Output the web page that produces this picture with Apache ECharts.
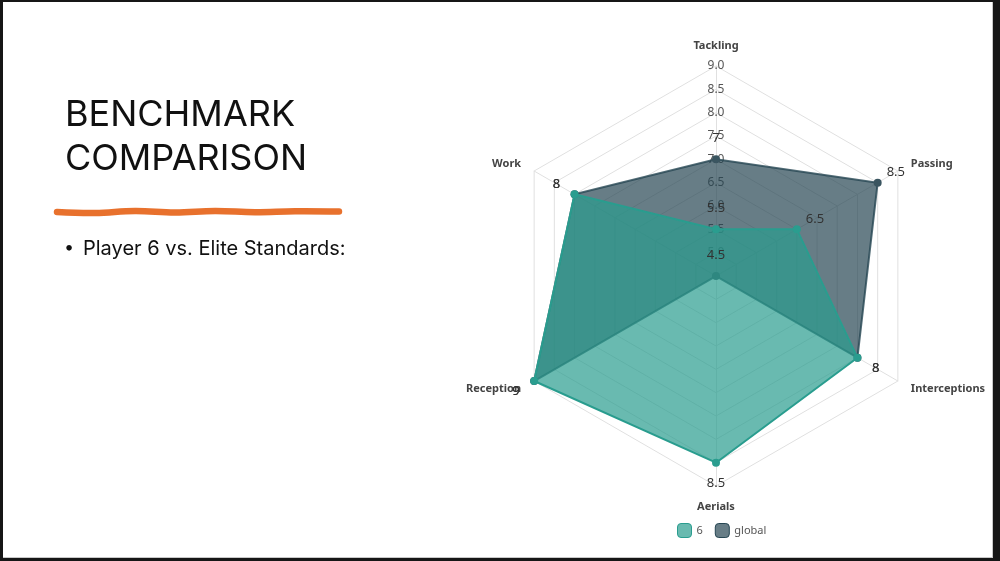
<!DOCTYPE html>
<html><head><meta charset="utf-8">
<script src="https://cdn.jsdelivr.net/npm/echarts@6/dist/echarts.min.js"></script>
<style>
html,body{margin:0;padding:0;width:1000px;height:561px;background:#161616;overflow:hidden}
#slide{position:absolute;left:3px;top:2px;width:989px;height:555px;background:#fff;border-right:1px solid #c8c8c8;border-bottom:1px solid #c8c8c8}
#chart{position:absolute;left:0;top:0;width:1000px;height:561px}
</style></head><body>
<div id="slide"></div><div id="chart"></div>
<script>
// ---- data (reference order, clockwise from top) ----
const indicators = ['Tackling', 'Passing', 'Interceptions', 'Aerials', 'Reception', 'Work'];
const axisMin = 4.5;
const axisMax = 9.0;
const axisSplits = 9;
const player6 = [5.5, 6.5, 8, 8.5, 9, 8];
const globalVals = [7, 8.5, 8, 4.5, 9, 8];
const seriesNames = ['6', 'global'];
const titleLines = ['BENCHMARK', 'COMPARISON'];
const bulletText = 'Player 6 vs. Elite Standards:';

// ---- layout / style ----
const CX = 0.716, CY = 0.492, R = 210;
const LABEL_OFF = 21;
const teal = '#2a9d8f', slate = '#264653';

// ECharts lays indicators counter-clockwise: reorder to keep reference's clockwise layout
const order = [0, 5, 4, 3, 2, 1];
const reorder = arr => order.map(i => arr[i]);

const chart = echarts.init(document.getElementById('chart'), null, {renderer: 'canvas'});
const W = chart.getWidth(), H = chart.getHeight();

function outwardLabel(p) {
  const cx = W * CX, cy = H * CY;
  const px = p.rect.x + p.rect.width / 2, py = p.rect.y + p.rect.height / 2;
  let dx = px - cx, dy = py - cy;
  const d = Math.hypot(dx, dy);
  if (d < 3) { dx = 0; dy = -1; } else { dx /= d; dy /= d; }
  return {x: px + dx * LABEL_OFF, y: py + dy * LABEL_OFF, align: 'center', verticalAlign: 'middle'};
}

const indicatorOpts = reorder(indicators).map((name, i) => {
  const o = {name: name, min: axisMin, max: axisMax};
  if (i === 0) o.axisLabel = {show: true};
  return o;
});

const dataLabel = {show: true, color: '#333', fontSize: 13, fontFamily: 'Noto Sans'};

const option = {
  animation: false,
  backgroundColor: 'transparent',
  graphic: [
    {type: 'text', left: 65, top: 97, style: {text: titleLines[0], font: '400 36px Inter', fill: '#111'}},
    {type: 'text', left: 65, top: 141, style: {text: titleLines[1], font: '400 36px Inter', fill: '#111'}},
    {type: 'polyline', shape: {points: [[57,212],[95,213],[135,211],[175,212.5],[215,211],[255,212.2],[295,211.2],[339,211.5]], smooth: 0.4},
      style: {stroke: '#e8712d', lineWidth: 6.5, lineCap: 'round', fill: null}},
    {type: 'text', left: 64, top: 239, style: {text: '•', font: '400 18px Inter', fill: '#111'}},
    {type: 'text', left: 83, top: 239, style: {text: bulletText, font: '400 20px Inter', fill: '#111'}}
  ],
  legend: {
    data: [
      {name: seriesNames[0], itemStyle: {color: 'rgba(42,157,143,0.7)', borderColor: teal, borderWidth: 1}},
      {name: seriesNames[1], itemStyle: {color: 'rgba(38,70,83,0.7)', borderColor: slate, borderWidth: 1}}
    ],
    left: 672, top: 518, icon: 'roundRect', itemWidth: 14, itemHeight: 14, itemGap: 12,
    textStyle: {color: '#555', fontSize: 11, fontFamily: 'Noto Sans'}
  },
  radar: {
    center: [(CX * 100) + '%', (CY * 100) + '%'],
    radius: R,
    shape: 'polygon',
    splitNumber: axisSplits,
    nameGap: 15,
    axisName: {color: '#444', fontSize: 11, fontWeight: 'bold', fontFamily: 'Noto Sans'},
    splitLine: {lineStyle: {color: '#e0e0e0', width: 1}},
    splitArea: {show: false},
    axisLine: {lineStyle: {color: '#e0e0e0', width: 1}},
    axisTick: {show: false},
    axisLabel: {show: false, color: '#555', fontSize: 12, fontFamily: 'Noto Sans', margin: 0,
      align: 'center', verticalAlign: 'middle',
      formatter: v => (v <= axisMin + 1e-9 ? '' : Number(v).toFixed(1))},
    indicator: indicatorOpts
  },
  series: [
    {
      type: 'radar', name: seriesNames[1], z: 2,
      symbol: 'circle', symbolSize: 8,
      itemStyle: {color: '#3a5560'},
      lineStyle: {color: 'rgba(38,70,83,0.8)', width: 2},
      areaStyle: {color: 'rgba(38,70,83,0.7)', opacity: 1},
      label: {show: false},
      data: [{name: seriesNames[1], value: reorder(globalVals)}]
    },
    {
      type: 'radar', name: seriesNames[0], z: 3,
      symbol: 'circle', symbolSize: 8,
      itemStyle: {color: teal},
      lineStyle: {color: teal, width: 2},
      areaStyle: {color: 'rgba(42,157,143,0.7)', opacity: 1},
      label: dataLabel,
      labelLayout: outwardLabel,
      data: [{name: seriesNames[0], value: reorder(player6)}]
    },
    {
      // value labels of the 'global' series, drawn above both filled areas
      type: 'radar', name: seriesNames[1], z: 4, silent: true,
      symbol: 'circle', symbolSize: 8,
      itemStyle: {color: 'rgba(0,0,0,0)'},
      lineStyle: {width: 0, opacity: 0},
      label: dataLabel,
      labelLayout: outwardLabel,
      data: [{name: seriesNames[1], value: reorder(globalVals)}]
    }
  ]
};
chart.setOption(option);
</script>
</body></html>
